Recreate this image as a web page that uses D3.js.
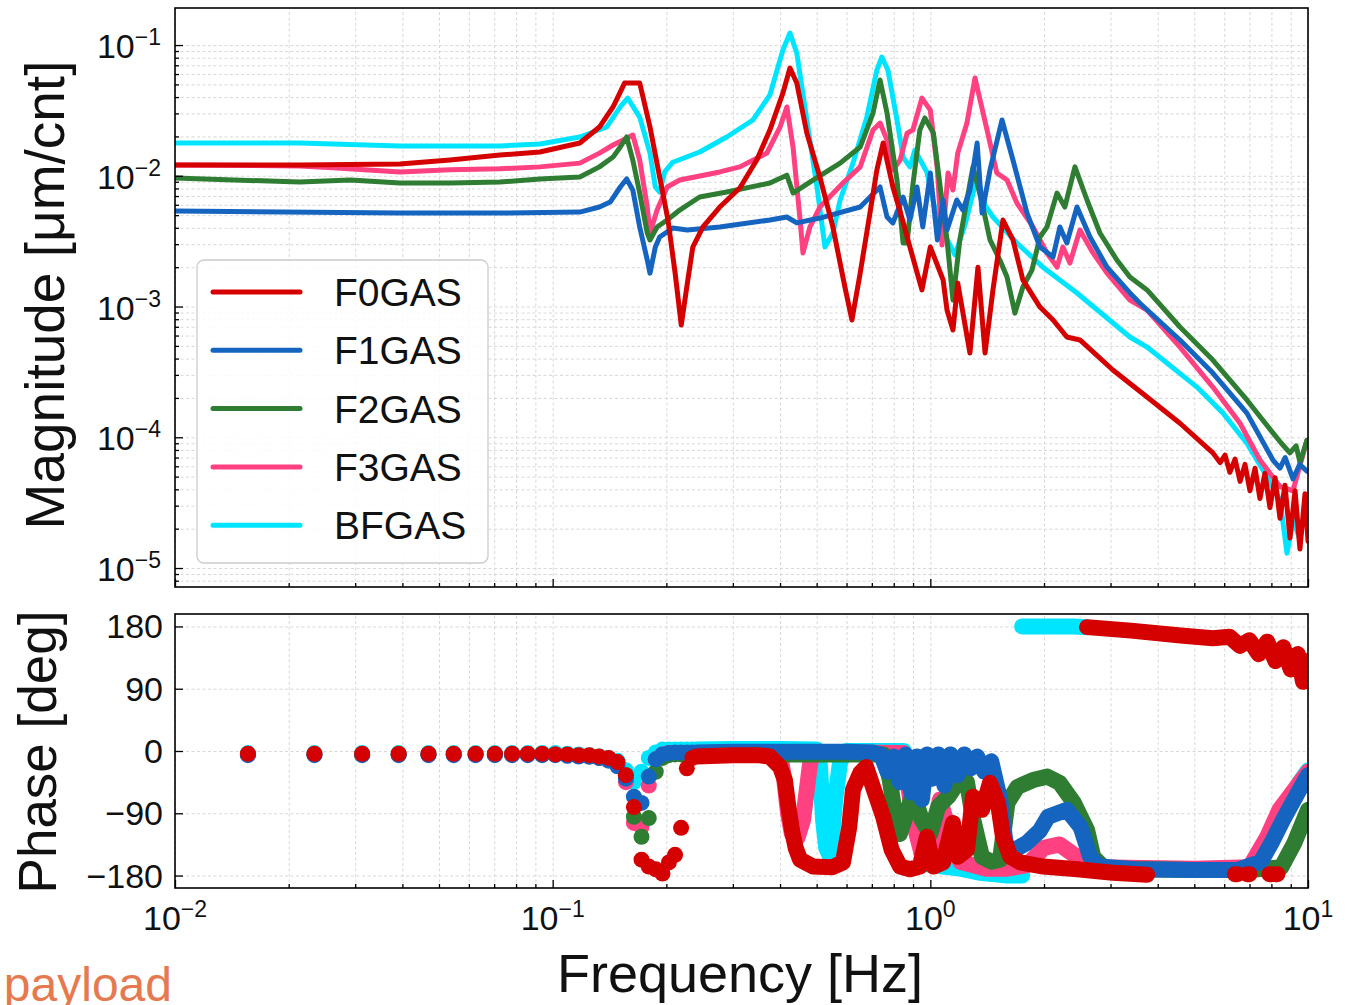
<!DOCTYPE html>
<html>
<head>
<meta charset="utf-8">
<script src="https://cdn.jsdelivr.net/npm/d3@7"></script>
<style>
  body { margin: 0; background: #fff; }
  svg { font-family: "Liberation Sans", Arial, Helvetica, sans-serif; }
</style>
</head>
<body>
<svg id="chart" width="1347" height="1005"></svg>
<script>
const seriesNames = ["F0GAS", "F1GAS", "F2GAS", "F3GAS", "BFGAS"];
const seriesColors = ["#d50000", "#1565c0", "#2e7d32", "#ff4081", "#00e5ff"];

// magnitude [Hz, um/cnt]
const magF0 = [[0.01,0.0121],[0.0214,0.0121],[0.0394,0.0123],[0.0535,0.0132],[0.0725,0.0144],[0.0925,0.0152],[0.118,0.0178],[0.133,0.0236],[0.1445,0.0336],[0.155,0.0512],[0.17,0.0512],[0.181,0.0236],[0.192,0.00978],[0.202,0.00459],[0.211,0.0018],[0.219,0.000722],[0.228,0.0016],[0.235,0.00285],[0.25,0.00406],[0.277,0.00577],[0.313,0.00806],[0.347,0.0132],[0.376,0.0224],[0.407,0.0429],[0.425,0.0667],[0.443,0.0512],[0.471,0.0212],[0.51,0.00978],[0.552,0.00406],[0.594,0.00141],[0.62,0.000789],[0.652,0.0018],[0.692,0.00519],[0.722,0.0111],[0.75,0.0178],[0.796,0.00821],[0.847,0.00443],[0.883,0.00285],[0.95,0.00134],[1.0,0.00285],[1.081,0.0016],[1.107,0.00094],[1.148,0.000661],[1.182,0.00151],[1.273,0.000441],[1.337,0.002],[1.396,0.000441],[1.465,0.00134],[1.557,0.00459],[1.655,0.00323],[1.758,0.0016],[1.951,0.000991],[2.113,0.000789],[2.299,0.000585],[2.489,0.000555],[3.043,0.000327],[3.748,0.000203],[4.581,0.000128],[5.598,7.6e-5],[5.85,6.4e-5],[6.03,7.3e-5],[6.21,5.4e-5],[6.41,6.8e-5],[6.61,4.6e-5],[6.81,6.2e-5],[7.02,3.9e-5],[7.24,5.8e-5],[7.46,3.4e-5],[7.69,5.3e-5],[7.93,2.9e-5],[8.18,4.9e-5],[8.43,2.4e-5],[8.69,4.3e-5],[8.96,1.7e-5],[9.24,3.9e-5],[9.52,1.4e-5],[9.82,3.7e-5],[10,1.6e-5]];
const magF1 = [[0.01,0.00538],[0.0394,0.00519],[0.0725,0.00519],[0.118,0.00528],[0.133,0.00577],[0.142,0.0063],[0.151,0.00821],[0.157,0.00945],[0.163,0.00778],[0.17,0.00406],[0.178,0.00227],[0.181,0.0018],[0.187,0.00285],[0.192,0.0034],[0.208,0.00398],[0.227,0.00385],[0.277,0.00406],[0.376,0.00459],[0.417,0.00484],[0.443,0.00436],[0.51,0.00475],[0.652,0.00577],[0.736,0.00821],[0.768,0.00484],[0.796,0.00436],[0.847,0.00688],[0.883,0.00459],[0.922,0.00821],[0.955,0.00406],[1.0,0.0105],[1.044,0.00323],[1.081,0.00653],[1.107,0.00385],[1.175,0.00653],[1.219,0.00547],[1.273,0.00778],[1.33,0.0178],[1.371,0.00519],[1.439,0.0111],[1.548,0.0267],[1.655,0.0132],[1.803,0.00519],[1.951,0.00285],[2.113,0.00239],[2.203,0.00406],[2.299,0.00306],[2.445,0.00577],[2.647,0.0034],[2.937,0.002],[3.376,0.00127],[3.589,0.00106],[4.581,0.000555],[5.598,0.00031],[6.89,0.000153],[8.075,6.7e-5],[8.43,5.8e-5],[8.7,7.0e-5],[9.124,4.8e-5],[9.5,6.2e-5],[9.934,5.5e-5]];
const magF2 = [[0.01,0.00961],[0.0214,0.00896],[0.0291,0.00928],[0.0394,0.0088],[0.0535,0.0088],[0.0725,0.00896],[0.0925,0.00945],[0.118,0.00978],[0.133,0.0117],[0.1445,0.0139],[0.151,0.0166],[0.157,0.0198],[0.163,0.0132],[0.17,0.00738],[0.178,0.00365],[0.181,0.00323],[0.189,0.00406],[0.201,0.00459],[0.217,0.00547],[0.245,0.00688],[0.289,0.00751],[0.376,0.0088],[0.417,0.0101],[0.433,0.00738],[0.489,0.00928],[0.577,0.0125],[0.652,0.0166],[0.705,0.0302],[0.736,0.054],[0.768,0.0302],[0.816,0.00928],[0.847,0.00306],[0.868,0.00306],[0.899,0.0085],[0.938,0.0224],[0.967,0.0277],[1.019,0.0212],[1.062,0.00821],[1.107,0.00323],[1.148,0.00112],[1.197,0.00323],[1.25,0.00653],[1.297,0.0117],[1.371,0.00619],[1.439,0.00323],[1.528,0.00227],[1.596,0.00168],[1.675,0.000891],[1.758,0.00141],[1.858,0.0019],[1.951,0.0034],[2.036,0.00406],[2.165,0.00738],[2.271,0.00577],[2.415,0.0117],[2.599,0.00653],[2.812,0.00365],[3.118,0.00227],[3.376,0.00168],[3.748,0.00134],[4.581,0.000697],[5.598,0.00039],[6.89,0.000193],[8.075,0.000108],[8.5,9.0e-5],[8.957,7.6e-5],[9.3,8.6e-5],[9.528,6.4e-5],[9.934,9.5e-5]];
const magF3 = [[0.01,0.0121],[0.0214,0.0119],[0.0262,0.0115],[0.0394,0.0107],[0.0535,0.0111],[0.0725,0.0113],[0.0925,0.0117],[0.118,0.0125],[0.133,0.0149],[0.1445,0.0172],[0.157,0.0194],[0.163,0.0205],[0.17,0.0132],[0.178,0.00577],[0.181,0.00365],[0.189,0.00547],[0.201,0.00821],[0.217,0.00928],[0.277,0.0107],[0.313,0.0117],[0.369,0.0149],[0.4,0.0236],[0.417,0.0336],[0.433,0.0166],[0.452,0.00459],[0.46,0.00257],[0.48,0.00406],[0.51,0.00577],[0.587,0.0088],[0.652,0.0117],[0.705,0.0224],[0.736,0.0253],[0.768,0.0188],[0.796,0.0111],[0.832,0.0132],[0.868,0.0212],[0.899,0.0224],[0.95,0.0393],[1.0,0.0318],[1.044,0.0111],[1.074,0.00295],[1.114,0.0105],[1.148,0.00778],[1.182,0.0149],[1.25,0.0253],[1.313,0.056],[1.413,0.0224],[1.5,0.0105],[1.596,0.00928],[1.695,0.00619],[1.87,0.00406],[2.036,0.00257],[2.165,0.002],[2.244,0.00285],[2.342,0.00215],[2.489,0.00385],[2.696,0.00257],[2.937,0.0018],[3.376,0.00112],[3.748,0.00094],[4.581,0.00049],[5.598,0.000242],[6.607,0.000128],[7.46,6.7e-5],[8.433,4.2e-5],[9.124,3.9e-5],[9.934,9.5e-5]];
const magBF = [[0.01,0.0178],[0.0214,0.0178],[0.0394,0.0169],[0.0725,0.0169],[0.0925,0.0175],[0.118,0.0198],[0.139,0.0236],[0.151,0.0336],[0.158,0.0393],[0.17,0.0281],[0.181,0.0149],[0.187,0.00821],[0.192,0.00751],[0.198,0.0107],[0.208,0.0127],[0.245,0.0152],[0.289,0.0198],[0.339,0.0267],[0.376,0.0415],[0.407,0.0916],[0.425,0.1236],[0.443,0.0869],[0.471,0.0267],[0.501,0.00821],[0.526,0.00285],[0.552,0.00365],[0.577,0.00653],[0.624,0.0125],[0.679,0.0281],[0.722,0.0644],[0.744,0.081],[0.772,0.0644],[0.816,0.0267],[0.847,0.0139],[0.883,0.0117],[0.91,0.0157],[0.979,0.0107],[1.044,0.00459],[1.162,0.00248],[1.235,0.0042],[1.33,0.00978],[1.396,0.00597],[1.465,0.00484],[1.695,0.00306],[1.987,0.002],[2.445,0.00127],[3.376,0.000585],[3.748,0.00049],[5.081,0.000242],[5.957,0.000153],[6.89,9.0e-5],[7.785,5.0e-5],[8.433,3.3e-5],[8.798,1.3e-5],[9.124,2.33e-5],[9.528,1.64e-5]];

// phase: first 29 points sit on the n/128 Hz grid, drawn as separate dots
const lowFreqs = [0.0156,0.0234,0.0313,0.0391,0.0469,0.0547,0.0625,0.0703,0.0781,0.0859,0.0938,0.1016,0.1094,0.1172,0.125,0.1328,0.1406,0.1484,0.1563,0.1641,0.1719,0.1797,0.1875,0.1953,0.2031,0.2109,0.2188,0.2266,0.2344];
const lowPhF0 = [-4,-4,-4,-4,-4,-4,-4,-4,-4,-4,-4,-5,-5,-6,-6,-8,-10,-16,-35,-81,-157,-167,-171,-177,-161,-150,-111,-25,-10];
const lowPhF1 = [-6,-6,-6,-6,-6,-6,-6,-6,-6,-6,-6,-6,-7,-8,-8,-10,-14,-22,-40,-66,-75,-37,-12,-5,-3,-2,-2,-2,-2];
const lowPhF2 = [-5,-5,-5,-5,-5,-5,-5,-5,-5,-5,-5,-5,-6,-7,-8,-10,-12,-16,-35,-95,-124,-97,-30,-10,-6,-5,-5,-5,-5];
const lowPhF3 = [-5,-5,-5,-5,-5,-5,-5,-5,-5,-5,-5,-5,-6,-7,-8,-10,-12,-18,-45,-104,-110,-50,-12,-5,-3,-3,-3,-3,-3];
const lowPhBF = [-3,-3,-3,-3,-3,-3,-3,-3,-3,-3,-3,-3,-4,-5,-6,-8,-10,-14,-28,-45,-30,-10,-2,2,2,2,2,2,2];

// dense part [Hz, deg], null = break
const bandPhF0 = [[0.24,-8],[0.3,-6],[0.35,-6],[0.376,-8],[0.4,-23],[0.412,-42],[0.421,-81],[0.43,-114],[0.44,-140],[0.452,-157],[0.489,-167],[0.55,-168],[0.587,-161],[0.61,-110],[0.624,-56],[0.652,-32],[0.676,-23],[0.705,-52],[0.75,-95],[0.79,-143],[0.832,-167],[0.883,-171],[0.938,-167],[0.979,-124],[1.019,-167],[1.081,-161],[1.148,-104],[1.182,-153],[1.25,-143],[1.297,-66],[1.371,-85],[1.439,-46],[1.51,-75],[1.557,-124],[1.63,-153],[1.73,-161],[1.99,-167],[2.45,-171],[3.04,-176],[3.75,-179],null,[6.4,-178],[6.5,-178],null,[6.9,-178],[7.0,-178],null,[7.9,-178],[8.0,-178],null,[8.2,-178],[8.3,-178],null,[2.6,179],[3.4,174],[4.6,167],[5.6,163],[6.2,165],[6.6,152],[7.0,160],[7.4,140],[7.8,158],[8.2,130],[8.6,150],[9.0,118],[9.4,140],[9.7,100],[10,130]];
const bandPhF1 = [[0.24,-2],[0.3,-1],[0.4,-1],[0.5,-1],[0.6,-1],[0.7,-2],[0.74,-5],[0.77,-30],[0.8,-8],[0.83,-45],[0.86,-5],[0.89,-60],[0.92,-8],[0.95,-70],[0.98,-5],[1.01,-40],[1.05,-5],[1.09,-50],[1.13,-5],[1.18,-35],[1.23,-5],[1.28,-25],[1.33,-8],[1.39,-30],[1.45,-15],[1.5,-50],[1.53,-70],[1.58,-130],[1.62,-147],[1.8,-133],[1.95,-115],[2.05,-95],[2.3,-85],[2.5,-110],[2.65,-153],[2.8,-167],[3.5,-171],[5,-172],[6.5,-172],[7.5,-160],[8.0,-133],[8.6,-99],[9.5,-56],[10,-35]];
const bandPhF2 = [[0.24,-5],[0.4,-5],[0.6,-5],[0.75,-5],[0.78,-40],[0.8,-80],[0.83,-120],[0.86,-95],[0.9,-60],[0.95,-100],[1.0,-120],[1.05,-80],[1.12,-65],[1.2,-40],[1.25,-45],[1.3,-100],[1.37,-153],[1.45,-160],[1.53,-157],[1.6,-75],[1.7,-52],[1.87,-42],[2.04,-37],[2.2,-46],[2.4,-75],[2.6,-114],[2.7,-153],[2.9,-170],[5,-172],[7,-172],[8.5,-168],[9.2,-133],[10,-85]];
const bandPhF3 = [[0.24,-3],[0.3,-2],[0.38,-3],[0.4,-5],[0.41,-40],[0.42,-90],[0.43,-120],[0.445,-125],[0.46,-100],[0.47,-60],[0.48,-20],[0.49,-3],[0.6,-2],[0.85,-3],[0.9,-100],[0.95,-150],[1.0,-160],[1.06,-70],[1.1,-100],[1.2,-160],[1.4,-170],[1.6,-170],[1.8,-165],[2.0,-140],[2.2,-135],[2.4,-150],[2.7,-168],[5,-170],[7.0,-168],[7.8,-124],[8.4,-85],[9.5,-46],[10,-30]];
const bandPhBF = [[0.24,2],[0.3,3],[0.4,3],[0.5,2],[0.51,-20],[0.515,-60],[0.52,-100],[0.53,-140],[0.54,-150],[0.55,-120],[0.56,-70],[0.577,-15],[0.6,0],[0.85,0],[0.9,-60],[0.95,-150],[1.0,-165],[1.2,-170],[1.35,-176],[1.6,-180],[1.75,-180],null,[1.75,180],[2.0,180],[2.4,180],[2.6,179],null,[7.0,-175],[7.5,-160],[8.0,-130],[8.5,-100],[9.0,-70],[9.5,-45],[10,-28]];

const magTicks = [1e-5, 1e-4, 1e-3, 1e-2, 1e-1];
const magTickLabels = ["−5", "−4", "−3", "−2", "−1"];
const freqTicks = [0.01, 0.1, 1, 10];
const freqTickLabels = ["−2", "−1", "0", "1"];
const phaseTicks = [-180, -90, 0, 90, 180];
const phaseTickLabels = ["−180", "−90", "0", "90", "180"];

const mags = [magF0, magF1, magF2, magF3, magBF];
const lowPhs = [lowPhF0, lowPhF1, lowPhF2, lowPhF3, lowPhBF];
const bandPhs = [bandPhF0, bandPhF1, bandPhF2, bandPhF3, bandPhBF];

const plotL = 175, plotR = 1308;
const magTop = 8, magBot = 587, phTop = 614, phBot = 888;

const x = d3.scaleLog().domain([0.01, 10]).range([plotL, plotR]);
const yMag = d3.scaleLog().domain([7.16e-6, 0.192]).range([magBot, magTop]);
const yPh = d3.scaleLinear().domain([-198, 198]).range([phBot, phTop]);

function logSteps(lo, hi) {
  let out = [];
  for (let k = -6; k <= 1; k++) {
    for (let m = 1; m <= 9; m++) {
      let v = m * Math.pow(10, k);
      if (v >= lo * 0.999 && v <= hi * 1.001) out.push(v);
    }
  }
  return out;
}
const xAll = logSteps(0.01, 10);
const xMinor = xAll.filter((v) => !freqTicks.some((t) => Math.abs(v - t) / t < 1e-6));
const magAll = logSteps(7.16e-6, 0.192);
const magMinor = magAll.filter((v) => !magTicks.some((t) => Math.abs(v - t) / t < 1e-6));

const svg = d3.select("#chart");

svg.append("defs").append("clipPath").attr("id", "clipMag")
  .append("rect").attr("x", plotL).attr("y", magTop).attr("width", plotR - plotL).attr("height", magBot - magTop);
svg.select("defs").append("clipPath").attr("id", "clipPh")
  .append("rect").attr("x", plotL).attr("y", phTop).attr("width", plotR - plotL).attr("height", phBot - phTop);

function styleGrid(g) {
  g.select(".domain").remove();
  g.selectAll("line").attr("stroke", "#d4d4d4").attr("stroke-width", 0.9).attr("stroke-dasharray", "3,2.5");
}

// grid
svg.append("g").attr("transform", `translate(0,${magBot})`)
  .call(d3.axisBottom(x).tickValues(xAll).tickSize(-(magBot - magTop)).tickFormat(""))
  .call(styleGrid);
svg.append("g").attr("transform", `translate(${plotL},0)`)
  .call(d3.axisLeft(yMag).tickValues(magAll).tickSize(-(plotR - plotL)).tickFormat(""))
  .call(styleGrid);
svg.append("g").attr("transform", `translate(0,${phBot})`)
  .call(d3.axisBottom(x).tickValues(xAll).tickSize(-(phBot - phTop)).tickFormat(""))
  .call(styleGrid);
svg.append("g").attr("transform", `translate(${plotL},0)`)
  .call(d3.axisLeft(yPh).tickValues(phaseTicks).tickSize(-(plotR - plotL)).tickFormat(""))
  .call(styleGrid);

// magnitude lines
const magLine = d3.line().x((d) => x(d[0])).y((d) => yMag(d[1]));
const gMag = svg.append("g").attr("clip-path", "url(#clipMag)");
for (let i = mags.length - 1; i >= 0; i--) {
  gMag.append("path")
    .datum(mags[i])
    .attr("d", magLine)
    .attr("fill", "none")
    .attr("stroke", seriesColors[i])
    .attr("stroke-width", 5)
    .attr("stroke-linejoin", "round")
    .attr("stroke-linecap", "round");
}

// phase dots
const phLine = d3.line().defined((d) => d !== null).x((d) => x(d[0])).y((d) => yPh(d[1]));
const gPh = svg.append("g").attr("clip-path", "url(#clipPh)");
for (let i = bandPhs.length - 1; i >= 0; i--) {
  gPh.append("g")
    .selectAll("circle")
    .data(lowFreqs.map((f, j) => [f, lowPhs[i][j]]))
    .join("circle")
    .attr("cx", (d) => x(d[0]))
    .attr("cy", (d) => yPh(d[1]))
    .attr("r", 8)
    .attr("fill", seriesColors[i]);
  gPh.append("path")
    .datum(bandPhs[i])
    .attr("d", phLine)
    .attr("fill", "none")
    .attr("stroke", seriesColors[i])
    .attr("stroke-width", 16)
    .attr("stroke-linejoin", "round")
    .attr("stroke-linecap", "round");
}

// ticks (inward)
function styleTicks(g) {
  g.select(".domain").remove();
  g.selectAll("line").attr("stroke", "#000").attr("stroke-width", 1.3);
}
svg.append("g").attr("transform", `translate(${plotL},0)`)
  .call(d3.axisLeft(yMag).tickValues(magTicks).tickSize(-8).tickFormat("")).call(styleTicks);
svg.append("g").attr("transform", `translate(${plotL},0)`)
  .call(d3.axisLeft(yMag).tickValues(magMinor).tickSize(-4).tickFormat("")).call(styleTicks);
svg.append("g").attr("transform", `translate(0,${magBot})`)
  .call(d3.axisBottom(x).tickValues(freqTicks).tickSize(-8).tickFormat("")).call(styleTicks);
svg.append("g").attr("transform", `translate(0,${magBot})`)
  .call(d3.axisBottom(x).tickValues(xMinor).tickSize(-4).tickFormat("")).call(styleTicks);
svg.append("g").attr("transform", `translate(${plotL},0)`)
  .call(d3.axisLeft(yPh).tickValues(phaseTicks).tickSize(-8).tickFormat("")).call(styleTicks);
svg.append("g").attr("transform", `translate(0,${phBot})`)
  .call(d3.axisBottom(x).tickValues(freqTicks).tickSize(-8).tickFormat("")).call(styleTicks);
svg.append("g").attr("transform", `translate(0,${phBot})`)
  .call(d3.axisBottom(x).tickValues(xMinor).tickSize(-4).tickFormat("")).call(styleTicks);

// frames
[[magTop, magBot], [phTop, phBot]].forEach(([t, b]) => {
  svg.append("rect")
    .attr("x", plotL).attr("y", t)
    .attr("width", plotR - plotL).attr("height", b - t)
    .attr("fill", "none").attr("stroke", "#000").attr("stroke-width", 1.6);
});

// tick labels
const tickFont = 34, supFont = 23;
magTicks.forEach((v, i) => {
  let t = svg.append("text")
    .attr("x", 161).attr("y", yMag(v) + 13)
    .attr("text-anchor", "end").attr("font-size", tickFont).attr("fill", "#111");
  t.append("tspan").text("10");
  t.append("tspan").attr("dy", -13).attr("font-size", supFont).text(magTickLabels[i]);
});
freqTicks.forEach((v, i) => {
  let t = svg.append("text")
    .attr("x", x(v)).attr("y", 930)
    .attr("text-anchor", "middle").attr("font-size", tickFont).attr("fill", "#111");
  t.append("tspan").text("10");
  t.append("tspan").attr("dy", -13).attr("font-size", supFont).text(freqTickLabels[i]);
});
phaseTicks.forEach((v, i) => {
  svg.append("text")
    .attr("x", 163).attr("y", yPh(v) + 12)
    .attr("text-anchor", "end").attr("font-size", tickFont).attr("fill", "#111")
    .text(phaseTickLabels[i]);
});

// axis titles
svg.append("text")
  .attr("transform", "translate(64,295) rotate(-90)")
  .attr("text-anchor", "middle").attr("font-size", 55).attr("fill", "#111")
  .text("Magnitude [μm/cnt]");
svg.append("text")
  .attr("transform", "translate(56,752) rotate(-90)")
  .attr("text-anchor", "middle").attr("font-size", 53).attr("fill", "#111")
  .text("Phase [deg]");
svg.append("text")
  .attr("x", 740).attr("y", 992)
  .attr("text-anchor", "middle").attr("font-size", 54).attr("fill", "#111")
  .text("Frequency [Hz]");

// legend
const legend = svg.append("g");
legend.append("rect")
  .attr("x", 197).attr("y", 260).attr("width", 291).attr("height", 303)
  .attr("rx", 7).attr("fill", "#fff").attr("fill-opacity", 0.85)
  .attr("stroke", "#cccccc").attr("stroke-width", 1.3);
seriesNames.forEach((name, i) => {
  let cy = 292 + i * 58.3;
  legend.append("line")
    .attr("x1", 213).attr("x2", 300).attr("y1", cy).attr("y2", cy)
    .attr("stroke", seriesColors[i]).attr("stroke-width", 5).attr("stroke-linecap", "round");
  legend.append("text")
    .attr("x", 334).attr("y", cy + 14)
    .attr("font-size", 39).attr("fill", "#111")
    .text(name);
});

// stray slide text at bottom left
svg.append("text")
  .attr("x", 172).attr("y", 1001)
  .attr("text-anchor", "end").attr("font-size", 48).attr("fill", "#e5794f")
  .text("payload");
</script>
</body>
</html>
